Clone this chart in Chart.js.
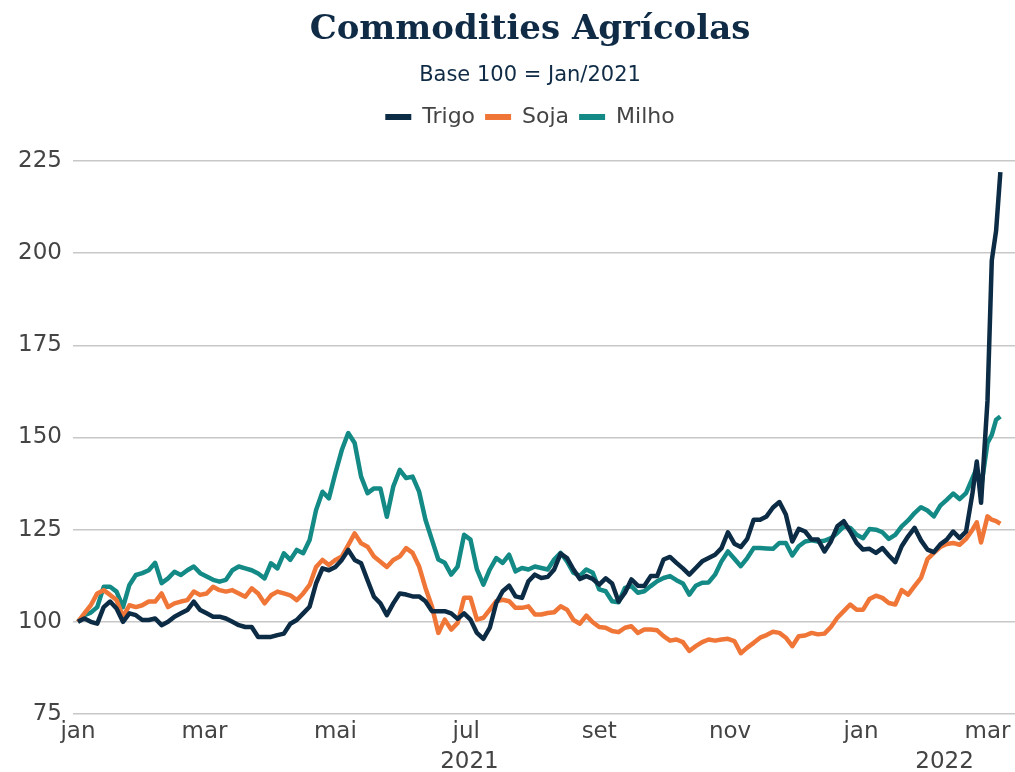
<!DOCTYPE html>
<html lang="pt-BR">
<head>
<meta charset="utf-8">
<title>Commodities Agrícolas</title>
<script src="https://cdn.jsdelivr.net/npm/chart.js@4.4.0/dist/chart.umd.min.js"></script>
<style>
  html, body { margin: 0; padding: 0; background: #fff; overflow: hidden; }
  canvas { display: block; }
</style>
</head>
<body>
<canvas id="grafico" width="1060" height="772"></canvas>
<script>
// dias corridos desde 1/jan/2021
const dias = [
  0, 3, 6, 9, 12, 15, 18, 21, 24, 27,
  30, 33, 36, 39, 42, 45, 48, 51, 54, 57,
  60, 63, 66, 69, 72, 75, 78, 81, 84, 87,
  90, 93, 96, 99, 102, 105, 108, 111, 114, 117,
  120, 123, 126, 129, 132, 135, 138, 141, 144, 147,
  150, 153, 156, 159, 162, 165, 168, 171, 174, 177,
  180, 183, 186, 189, 192, 195, 198, 201, 204, 207,
  210, 213, 216, 219, 222, 225, 228, 231, 234, 237,
  240, 243, 246, 249, 252, 255, 258, 261, 264, 267,
  270, 273, 276, 279, 282, 285, 288, 291, 294, 297,
  300, 303, 306, 309, 312, 315, 318, 321, 324, 327,
  330, 333, 336, 339, 342, 345, 348, 351, 354, 357,
  360, 363, 366, 369, 372, 375, 378, 381, 384, 387,
  390, 393, 396, 399, 402, 405, 408, 411, 414, 417,
  419, 421, 424, 426, 428, 430
];

const trigo = [
  100, 100.9, 100, 99.5, 104, 105.5, 103.6, 100, 102.3, 101.8,
  100.5, 100.5, 100.9, 99.1, 100, 101.4, 102.3, 103.2, 105.5, 103.2,
  102.3, 101.4, 101.4, 100.9, 100, 99.1, 98.6, 98.6, 95.9, 95.9,
  95.9, 96.4, 96.8, 99.5, 100.5, 102.3, 104.1, 110.4, 114.5, 114,
  114.9, 116.8, 119.5, 116.8, 115.9, 111.3, 106.8, 105, 101.8, 105,
  107.7, 107.4, 106.9, 106.9, 105.6, 102.9, 102.9, 102.9, 102.3, 100.8,
  102.3, 100.6, 97, 95.4, 98.4, 105.1, 108.3, 109.8, 106.9, 106.5,
  111, 112.8, 111.9, 112.2, 114.2, 118.5, 117.3, 114.2, 111.6, 112.4,
  111.6, 110.1, 111.8, 110.4, 105.5, 107.9, 111.5, 109.8, 109.7, 112.4,
  112.4, 116.9, 117.6, 116, 114.5, 112.8, 114.6, 116.4, 117.3, 118.2,
  120, 124.3, 121.2, 120.3, 122.5, 127.7, 127.7, 128.6, 131, 132.5,
  129.1, 121.8, 125.2, 124.5, 122.3, 122.3, 119.1, 121.8, 125.9, 127.3,
  124.5, 121.4, 119.6, 119.8, 118.7, 120, 118, 116.2, 120.5, 123.2,
  125.5, 122.1, 119.6, 118.9, 121, 122.3, 124.5, 122.7, 124.5, 134.9,
  143.5, 132.3, 160, 198, 206, 222
];

const soja = [
  100, 102.3, 104.5, 107.7, 108.6, 107.3, 105.9, 101.4, 104.5, 104,
  104.5, 105.5, 105.5, 107.7, 104, 105, 105.5, 105.9, 108.2, 107.3,
  107.7, 109.5, 108.6, 108.2, 108.6, 107.7, 106.8, 109.1, 107.7, 105,
  107.2, 108.2, 107.7, 107.2, 105.9, 107.7, 110, 114.9, 116.8, 115.4,
  116.8, 117.7, 120.8, 124, 121.3, 120.4, 117.7, 116.3, 114.9, 116.8,
  117.7, 120, 118.7, 115.1, 109.2, 104.2, 97, 100.6, 97.9, 99.7,
  106.5, 106.5, 100.6, 101.1, 103.3, 105.6, 106, 105.6, 103.8, 103.8,
  104.2, 102, 102, 102.4, 102.6, 104.2, 103.3, 100.5, 99.5, 101.7,
  99.9, 98.6, 98.4, 97.5, 97.2, 98.4, 98.8, 97, 97.9, 97.9,
  97.7, 96.1, 94.9, 95.2, 94.5, 92.1, 93.4, 94.5, 95.2, 94.9,
  95.2, 95.4, 94.8, 91.5, 93, 94.3, 95.7, 96.4, 97.3, 97,
  95.7, 93.4, 96.1, 96.3, 97, 96.6, 96.8, 98.6, 101.1, 102.9,
  104.7, 103.3, 103.3, 106.2, 107.1, 106.5, 105.1, 104.7, 108.6, 107.4,
  109.7, 111.9, 117, 118.7, 120.3, 121.1, 121.4, 120.9, 122.5, 125,
  127, 121.5, 128.6, 127.7, 127.3, 126.6
];

const milho = [
  100, 101.8, 102.5, 104, 109.5, 109.5, 108.2, 104, 110, 112.7,
  113.2, 114, 116, 110.5, 111.8, 113.6, 112.7, 114, 115, 113.2,
  112.3, 111.4, 110.9, 111.4, 114, 115, 114.5, 114, 113.1, 111.8,
  115.9, 114.5, 118.6, 116.8, 119.5, 118.6, 122.2, 130.3, 135.3, 133.5,
  140.3, 146.6, 151.2, 148.5, 139.4, 134.9, 136.2, 136.2, 128.5, 136.7,
  141.2, 139, 139.4, 135.4, 127.7, 122.3, 116.9, 116, 112.8, 115,
  123.6, 122.3, 114.2, 110.1, 114.2, 117.3, 116, 118.2, 113.7, 114.6,
  114.2, 115, 114.6, 114.2, 116.9, 118.7, 116.4, 113.3, 112.5, 114.2,
  113.3, 108.8, 108.3, 105.6, 105.3, 109.2, 109.7, 107.9, 108.3, 109.7,
  111, 111.9, 112.4, 111.3, 110.4, 107.4, 109.8, 110.6, 110.7, 112.8,
  116.4, 119.1, 117.1, 115.1, 117.3, 120, 120, 119.9, 119.8, 121.4,
  121.4, 118, 120.5, 121.8, 122.1, 121.8, 122, 122.7, 124.1, 125.9,
  125.5, 123.6, 122.7, 125.2, 125, 124.3, 122.5, 123.6, 125.9, 127.5,
  129.5, 131.1, 130.2, 128.6, 131.5, 133.1, 134.8, 133.3, 134.9, 139,
  141.7, 136.3, 148.5, 150.7, 154.8, 155.7
];

// rótulos do eixo x (início de cada mês, em dias corridos)
const mesesDias = [0, 59, 120, 181, 243, 304, 365, 424];
const mesesRotulos = ['jan', 'mar', 'mai', 'jul', 'set', 'nov', 'jan', 'mar'];
const anos = [
  { texto: '2021', de: 0, ate: 365 },
  { texto: '2022', de: 365, ate: 443 }
];
const yTicks = [75, 100, 125, 150, 175, 200, 225];

const corTexto = '#444444';
const corTitulo = '#0f2b46';
const fonteEixo = { family: 'DejaVu Sans', size: 23 };

function serie(valores) {
  return valores.map((v, i) => ({ x: dias[i], y: v }));
}

// espaço extra abaixo da legenda
const espacoLegenda = {
  id: 'espacoLegenda',
  beforeInit(chart) {
    const fitOriginal = chart.legend.fit;
    chart.legend.fit = function () {
      fitOriginal.bind(chart.legend)();
      this.height += 23;
    };
  }
};

// anos embaixo dos meses
const rotuloAnos = {
  id: 'rotuloAnos',
  afterDraw(chart) {
    const ctx = chart.ctx;
    const x = chart.scales.x;
    ctx.save();
    ctx.font = '23px "DejaVu Sans"';
    ctx.fillStyle = corTexto;
    ctx.textAlign = 'center';
    ctx.textBaseline = 'middle';
    anos.forEach(a => {
      const meio = (x.getPixelForValue(a.de) + x.getPixelForValue(a.ate)) / 2;
      ctx.fillText(a.texto, meio, 762);
    });
    ctx.restore();
  }
};

const ctx = document.getElementById('grafico').getContext('2d');
new Chart(ctx, {
  type: 'line',
  data: {
    datasets: [
      { label: 'Trigo', data: serie(trigo), borderColor: '#0c2b45', backgroundColor: '#0c2b45' },
      { label: 'Soja', data: serie(soja), borderColor: '#f07638', backgroundColor: '#f07638' },
      { label: 'Milho', data: serie(milho), borderColor: '#138a86', backgroundColor: '#138a86' }
    ]
  },
  options: {
    responsive: false,
    animation: false,
    devicePixelRatio: 1,
    layout: { padding: { left: 0, right: 0, top: 0, bottom: 0 } },
    elements: {
      line: { borderWidth: 4.5, tension: 0, borderJoinStyle: 'round', borderCapStyle: 'butt' },
      point: { radius: 0 }
    },
    scales: {
      x: {
        type: 'linear',
        min: -2.3,
        max: 457.8,
        grid: { display: false, drawTicks: false },
        border: { display: false },
        afterBuildTicks(scale) {
          scale.ticks = mesesDias.map(v => ({ value: v }));
        },
        afterFit(scale) { scale.height = 58; },
        ticks: {
          autoSkip: false,
          maxRotation: 0,
          padding: 4,
          color: corTexto,
          font: fonteEixo,
          callback: (v, i) => mesesRotulos[i]
        }
      },
      y: {
        min: 75,
        max: 225,
        afterBuildTicks(scale) {
          scale.ticks = yTicks.map(v => ({ value: v }));
        },
        afterFit(scale) { scale.width = 73; },
        grid: { color: '#c8c8c8', lineWidth: 1.5, drawTicks: false },
        border: { display: false },
        ticks: { padding: 11, color: corTexto, font: fonteEixo }
      }
    },
    plugins: {
      title: {
        display: true,
        text: 'Commodities Agrícolas',
        color: corTitulo,
        font: { family: 'DejaVu Serif', size: 34, weight: 'bold' },
        padding: { top: 10, bottom: 12 }
      },
      subtitle: {
        display: true,
        text: 'Base 100 = Jan/2021',
        color: corTitulo,
        font: { family: 'DejaVu Sans', size: 21 },
        padding: { top: 0, bottom: 8 }
      },
      legend: {
        labels: {
          boxWidth: 26,
          boxHeight: 6,
          padding: 10,
          color: corTexto,
          font: { family: 'DejaVu Sans', size: 22 },
          generateLabels(chart) {
            return Chart.defaults.plugins.legend.labels.generateLabels(chart)
              .map(l => ({ ...l, lineWidth: 0 }));
          }
        }
      },
      tooltip: { enabled: false }
    }
  },
  plugins: [espacoLegenda, rotuloAnos]
});
</script>
</body>
</html>
